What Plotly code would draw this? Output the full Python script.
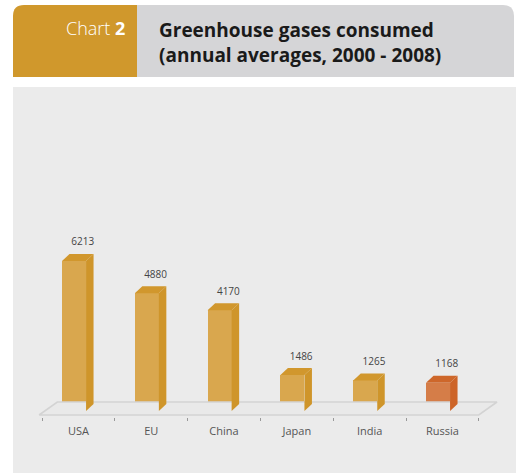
import plotly.graph_objects as go

categories = ["USA", "EU", "China", "Japan", "India", "Russia"]
values = [6213, 4880, 4170, 1486, 1265, 1168]
front_colors = ["#d9a74e", "#d9a74e", "#d9a74e", "#d9a74e", "#d9a74e", "#d57d48"]
side_colors = ["#cf952a", "#cf952a", "#cf952a", "#cf952a", "#cf952a", "#cd6428"]
top_colors = ["#d1972d", "#d1972d", "#d1972d", "#d1972d", "#d1972d", "#ce672a"]

W, H = 516, 473
BW = 0.33      # bar width (category units)
DX = 0.103     # depth in x (category units)
DY = 290       # depth in y (value units)
SHIFT = -0.06  # bar offset inside each category band
LBL_DX = 0.12
LBL_DY = 250

def px(x):
    return x / W

def py(y):
    return 1 - y / H

fig = go.Figure()
idx = list(range(len(categories)))
bx = [i + SHIFT for i in idx]

# floor
n = len(categories)
fx = [-0.54, -0.29, n - 0.5 + 0.25, n - 0.5, -0.54]
fy = [-166, 373, 373, -166, -166]
fig.add_trace(go.Scatter(x=fx, y=fy, mode="lines", fill="toself", fillcolor="#e9e9e9",
                         line=dict(color="#d3d3d3", width=1.6), hoverinfo="skip", showlegend=False))

# front faces
fig.add_trace(go.Bar(x=bx, y=values, width=BW, marker=dict(color=front_colors, line=dict(width=0)),
                     showlegend=False, hoverinfo="skip"))

# side and top faces
for i, v in enumerate(values):
    x0, x1 = bx[i] - BW / 2, bx[i] + BW / 2
    fig.add_trace(go.Scatter(x=[x1, x1, x1 + DX, x1 + DX, x1], y=[0, v, v + DY, DY, 0],
                             mode="lines", fill="toself", fillcolor=side_colors[i],
                             line=dict(width=0, color=side_colors[i]), hoverinfo="skip", showlegend=False))
    fig.add_trace(go.Scatter(x=[x0, x0 + DX, x1 + DX, x1, x0], y=[v, v + DY, v + DY, v, v],
                             mode="lines", fill="toself", fillcolor=top_colors[i],
                             line=dict(width=0, color=top_colors[i]), hoverinfo="skip", showlegend=False))

# value labels
fig.add_trace(go.Scatter(x=[b + LBL_DX for b in bx], y=[v + DY + LBL_DY for v in values], mode="text",
                         text=[str(v) for v in values], textposition="top center",
                         textfont=dict(family="Open Sans", size=10, color="#444444"),
                         hoverinfo="skip", showlegend=False))

shapes = [
    dict(type="rect", xref="paper", yref="paper", x0=px(13), x1=1, y0=0, y1=py(87),
         fillcolor="#ebebeb", line=dict(width=0), layer="below"),
    dict(type="path", xref="paper", yref="paper",
         path=f"M {px(13)},{py(77)} L {px(13)},{py(16)} Q {px(13)},{py(5)} {px(24)},{py(5)} "
              f"L {px(137)},{py(5)} L {px(137)},{py(77)} Z",
         fillcolor="#d0982c", line=dict(width=0), layer="below"),
    dict(type="path", xref="paper", yref="paper",
         path=f"M {px(137)},{py(77)} L {px(137)},{py(5)} L {px(503)},{py(5)} "
              f"Q {px(514)},{py(5)} {px(514)},{py(16)} L {px(514)},{py(77)} Z",
         fillcolor="#d5d5d7", line=dict(width=0), layer="below"),
]

annotations = [
    dict(xref="paper", yref="paper", x=px(127), y=py(28), xanchor="right", yanchor="middle",
         text="Chart <b>2</b>", showarrow=False,
         font=dict(family="Open Sans", size=18, color="#ffffff", weight=300)),
    dict(xref="paper", yref="paper", x=px(157), y=py(42), xanchor="left", yanchor="middle",
         align="left", text="<b>Greenhouse gases consumed<br>(annual averages, 2000 - 2008)</b>",
         showarrow=False, font=dict(family="Open Sans", size=19, color="#1a1a1a")),
]

fig.update_layout(
    width=W, height=H,
    margin=dict(l=0, r=0, t=0, b=0),
    paper_bgcolor="#ffffff", plot_bgcolor="rgba(0,0,0,0)",
    shapes=shapes, annotations=annotations,
    bargap=0,
    xaxis=dict(domain=[px(13), 1], range=[-0.8984, 6.011], showgrid=False, zeroline=False,
               showline=False, tickmode="array", tickvals=idx, ticktext=categories,
               ticks="", tickfont=dict(family="Open Sans", size=11, color="#555555"),
               ticklabelstandoff=6,
               minor=dict(tickmode="array", tickvals=[i - 0.5 for i in range(n + 1)],
                          ticks="outside", ticklen=3, tickcolor="#999999", tickwidth=1, showgrid=False)),
    yaxis=dict(domain=[py(417), py(87)], range=[-248.5, 13420], visible=False, showgrid=False),
)

fig.write_html("out.html")
